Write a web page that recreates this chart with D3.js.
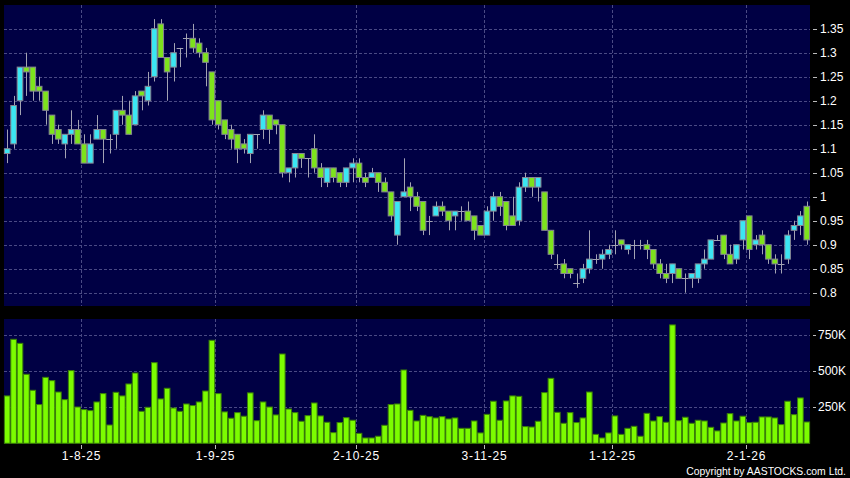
<!DOCTYPE html>
<html>
<head>
<meta charset="utf-8">
<script src="https://cdn.jsdelivr.net/npm/d3@7"></script>
<style>
  body { margin: 0; background: #000; }
  svg { display: block; }
</style>
</head>
<body>
<div id="chart"></div>
<script>
let W = 850,
  H = 478;

// daily prices, one entry per trading day
let open = [1.09,1.11,1.20,1.27,1.27,1.23,1.22,1.17,1.14,1.11,1.13,1.14,1.11,1.07,1.12,1.14,1.12,1.13,1.18,1.17,
  1.15,1.22,1.20,1.25,1.36,1.29,1.27,1.31,1.33,1.33,1.32,1.30,1.26,1.20,1.16,1.14,1.13,1.11,1.09,1.13,
  1.14,1.17,1.16,1.15,1.05,1.06,1.09,1.08,1.10,1.06,1.03,1.06,1.05,1.03,1.06,1.07,1.04,1.04,1.05,1.03,
  1.01,0.92,1.00,1.02,1.00,0.99,0.95,0.96,0.98,0.97,0.96,0.97,0.97,0.96,0.94,0.92,0.97,1.00,0.99,0.96,
  0.95,1.02,1.04,1.02,1.01,0.93,0.86,0.86,0.85,0.82,0.83,0.85,0.87,0.87,0.88,0.90,0.91,0.89,0.90,0.90,
  0.90,0.89,0.86,0.84,0.84,0.85,0.83,0.83,0.83,0.86,0.87,0.91,0.92,0.88,0.87,0.91,0.96,0.90,0.92,0.90,
  0.87,0.86,0.87,0.93,0.94,0.98];
let high = [1.14,1.21,1.27,1.30,1.27,1.25,1.22,1.17,1.15,1.13,1.18,1.16,1.13,1.13,1.17,1.14,1.13,1.18,1.21,1.20,
  1.22,1.22,1.26,1.37,1.37,1.29,1.32,1.31,1.34,1.36,1.33,1.31,1.26,1.20,1.16,1.15,1.13,1.12,1.13,1.13,
  1.18,1.17,1.16,1.15,1.06,1.09,1.09,1.08,1.13,1.07,1.06,1.06,1.05,1.06,1.08,1.08,1.05,1.06,1.05,1.04,
  1.01,0.99,1.08,1.03,1.01,0.99,0.96,0.99,0.99,0.97,0.97,0.98,0.99,0.96,0.94,0.98,1.01,1.01,0.99,1.00,
  1.03,1.05,1.04,1.04,1.01,0.93,0.88,0.87,0.85,0.84,0.86,0.93,0.88,0.89,0.90,0.93,0.91,0.90,0.91,0.91,
  0.91,0.89,0.87,0.86,0.86,0.85,0.84,0.84,0.86,0.89,0.91,0.92,0.92,0.90,0.90,0.95,0.96,0.92,0.93,0.90,
  0.88,0.88,0.93,0.95,0.97,0.99];
let low = [1.07,1.10,1.17,1.21,1.20,1.20,1.15,1.11,1.11,1.08,1.11,1.11,1.07,1.07,1.12,1.07,1.09,1.10,1.15,1.13,
  1.15,1.18,1.19,1.24,1.29,1.20,1.24,1.27,1.29,1.30,1.29,1.23,1.15,1.14,1.12,1.10,1.07,1.09,1.07,1.10,
  1.12,1.11,1.13,1.04,1.03,1.04,1.06,1.04,1.05,1.02,1.02,1.03,1.02,1.02,1.03,1.03,1.02,1.04,1.01,1.01,
  0.95,0.90,1.00,0.97,0.97,0.92,0.92,0.96,0.96,0.93,0.93,0.95,0.95,0.91,0.92,0.92,0.95,0.96,0.93,0.94,
  0.94,1.01,1.00,0.99,0.93,0.87,0.85,0.83,0.83,0.81,0.82,0.84,0.86,0.85,0.87,0.88,0.89,0.88,0.87,0.89,
  0.87,0.85,0.83,0.82,0.82,0.83,0.80,0.81,0.82,0.85,0.87,0.91,0.87,0.86,0.86,0.89,0.87,0.89,0.88,0.86,
  0.84,0.84,0.86,0.91,0.92,0.90];
let close = [1.10,1.19,1.27,1.26,1.22,1.22,1.18,1.13,1.12,1.13,1.14,1.11,1.07,1.11,1.14,1.12,1.12,1.18,1.17,1.13,
  1.21,1.21,1.23,1.35,1.29,1.26,1.30,1.31,1.33,1.31,1.30,1.28,1.16,1.15,1.13,1.12,1.10,1.10,1.13,1.13,
  1.17,1.14,1.15,1.05,1.06,1.09,1.08,1.08,1.06,1.04,1.06,1.04,1.03,1.06,1.07,1.04,1.03,1.05,1.03,1.01,
  0.96,0.99,1.01,1.00,0.98,0.93,0.95,0.98,0.97,0.95,0.97,0.97,0.95,0.93,0.92,0.97,1.00,0.98,0.94,0.94,
  1.02,1.04,1.02,1.04,0.93,0.88,0.86,0.84,0.84,0.82,0.85,0.87,0.87,0.88,0.89,0.90,0.90,0.90,0.90,0.90,
  0.89,0.86,0.84,0.83,0.86,0.83,0.83,0.84,0.86,0.87,0.91,0.91,0.88,0.86,0.90,0.95,0.89,0.91,0.90,0.87,
  0.86,0.86,0.92,0.94,0.96,0.91];
// volume in thousands of shares
let volume = [329,722,694,479,368,269,458,435,356,303,505,252,234,227,287,345,127,354,329,412,
  488,222,250,560,308,382,245,222,273,262,287,363,715,345,218,174,213,188,350,157,
  287,252,197,620,238,213,153,192,280,190,146,74,144,178,160,69,37,37,49,125,
  269,273,509,229,155,194,185,176,185,169,176,104,104,155,72,201,292,160,294,329,
  326,116,113,153,352,451,215,139,213,144,176,356,62,37,72,190,62,104,118,49,
  208,155,185,146,822,157,181,139,160,155,111,86,141,206,155,188,144,146,183,183,
  176,130,292,199,315,148];

let monthLabels = ["1-8-25", "1-9-25", "2-10-25", "3-11-25", "1-12-25", "2-1-26"];
let monthIndex = [11, 32, 54, 74, 94, 115];
let priceTicks = [0.8, 0.85, 0.9, 0.95, 1, 1.05, 1.1, 1.15, 1.2, 1.25, 1.3, 1.35];
let volTicks = [250, 500, 750];
let volTickLabels = ["250K", "500K", "750K"];

let left = 4, right = 810;
let priceTop = 5, priceBottom = 306;
let volTop = 319, volBottom = 443.3;

let navy = "#000044";
let grid = "#4a4a84";
let upColor = "#3be6f3";
let downColor = "#7de31c";
let labelFont = "12px 'Liberation Sans', Arial, sans-serif";

let svg = d3
  .select("#chart")
  .append("svg")
  .attr("width", W)
  .attr("height", H)
  .style("background", "#000");

let idx = d3.range(close.length);

let x = d3.scaleBand()
  .domain(idx)
  .range([left, right])
  .paddingInner(0.12)
  .paddingOuter(0.06);

let y = d3.scaleLinear()
  .domain([0.7723, 1.3994])
  .range([priceBottom, priceTop]);

let yv = d3.scaleLinear()
  .domain([0, 863])
  .range([volBottom, volTop]);

function cx(i) {
  return x(i) + x.bandwidth() / 2;
}
// month separator sits on the right edge of the month's first day
function gx(i) {
  return Math.round(x(i) - x.step() * 0.06 + x.step()) + 0.5;
}

// panels
svg.append("rect")
  .attr("x", left).attr("y", priceTop)
  .attr("width", right - left).attr("height", priceBottom - priceTop)
  .attr("fill", navy);
svg.append("rect")
  .attr("x", left).attr("y", volTop)
  .attr("width", right - left).attr("height", volBottom - volTop)
  .attr("fill", navy);

// grid lines
let gridG = svg.append("g")
  .attr("stroke", grid)
  .attr("stroke-width", 1)
  .attr("stroke-dasharray", "3,2");

gridG.selectAll(".hp")
  .data(priceTicks)
  .enter()
  .append("line")
  .attr("x1", left).attr("x2", right)
  .attr("y1", function(d) { return Math.round(y(d)) + 0.5; })
  .attr("y2", function(d) { return Math.round(y(d)) + 0.5; });

gridG.selectAll(".hv")
  .data(volTicks)
  .enter()
  .append("line")
  .attr("x1", left).attr("x2", right)
  .attr("y1", function(d) { return Math.round(yv(d)) + 0.5; })
  .attr("y2", function(d) { return Math.round(yv(d)) + 0.5; });

[[priceTop, priceBottom], [volTop, volBottom]].forEach(function(p) {
  gridG.selectAll(null)
    .data(monthIndex)
    .enter()
    .append("line")
    .attr("x1", gx)
    .attr("x2", gx)
    .attr("y1", p[0]).attr("y2", p[1]);
});

// candles
let candles = svg.append("g")
  .selectAll("g")
  .data(idx)
  .enter()
  .append("g");

candles.append("line")
  .attr("x1", function(i) { return Math.round(cx(i)) + 0.5; })
  .attr("x2", function(i) { return Math.round(cx(i)) + 0.5; })
  .attr("y1", function(i) { return y(high[i]); })
  .attr("y2", function(i) { return y(low[i]); })
  .attr("stroke", "#a3a3b3")
  .attr("stroke-width", 1);

candles.filter(function(i) { return open[i] !== close[i]; })
  .append("rect")
  .attr("x", function(i) { return x(i); })
  .attr("width", x.bandwidth())
  .attr("y", function(i) { return y(Math.max(open[i], close[i])); })
  .attr("height", function(i) { return Math.abs(y(open[i]) - y(close[i])); })
  .attr("fill", function(i) { return close[i] > open[i] ? upColor : downColor; })
  .attr("stroke", "#858593")
  .attr("stroke-width", 1);

candles.filter(function(i) { return open[i] === close[i]; })
  .append("line")
  .attr("x1", function(i) { return x(i) - 0.5; })
  .attr("x2", function(i) { return x(i) + x.bandwidth() + 0.5; })
  .attr("y1", function(i) { return Math.round(y(close[i])) + 0.5; })
  .attr("y2", function(i) { return Math.round(y(close[i])) + 0.5; })
  .attr("stroke", "#a3a3b3")
  .attr("stroke-width", 1);

// volume bars
svg.append("g")
  .selectAll("rect")
  .data(volume)
  .enter()
  .append("rect")
  .attr("x", function(d, i) { return x(i); })
  .attr("width", x.bandwidth())
  .attr("y", function(d) { return yv(d); })
  .attr("height", function(d) { return volBottom - yv(d); })
  .attr("fill", "#7cfc00")
  .attr("stroke", "#3a7f08")
  .attr("stroke-width", 1);

// right axis labels
let pAxis = svg.append("g");
pAxis.selectAll("line")
  .data(priceTicks)
  .enter()
  .append("line")
  .attr("x1", 813).attr("x2", 817)
  .attr("y1", function(d) { return Math.round(y(d)) + 0.5; })
  .attr("y2", function(d) { return Math.round(y(d)) + 0.5; })
  .attr("stroke", "#bbb");
pAxis.selectAll("text")
  .data(priceTicks)
  .enter()
  .append("text")
  .attr("x", 820)
  .attr("y", function(d) { return y(d); })
  .attr("dy", "0.35em")
  .style("fill", "#fff")
  .style("font", labelFont)
  .text(function(d) { return d3.format("")(d); });

let vAxis = svg.append("g");
vAxis.selectAll("line")
  .data(volTicks)
  .enter()
  .append("line")
  .attr("x1", 813).attr("x2", 816)
  .attr("y1", function(d) { return Math.round(yv(d)) + 0.5; })
  .attr("y2", function(d) { return Math.round(yv(d)) + 0.5; })
  .attr("stroke", "#bbb");
vAxis.selectAll("text")
  .data(volTicks)
  .enter()
  .append("text")
  .attr("x", 818)
  .attr("y", function(d) { return yv(d); })
  .attr("dy", "0.35em")
  .style("fill", "#fff")
  .style("font", labelFont)
  .text(function(d, i) { return volTickLabels[i]; });

// date axis
let dAxis = svg.append("g");
dAxis.selectAll("line")
  .data(monthIndex)
  .enter()
  .append("line")
  .attr("x1", gx)
  .attr("x2", gx)
  .attr("y1", 445).attr("y2", 449)
  .attr("stroke", "#bbb");
dAxis.selectAll("text")
  .data(monthIndex)
  .enter()
  .append("text")
  .attr("x", gx)
  .attr("y", 460)
  .attr("text-anchor", "middle")
  .style("fill", "#fff")
  .style("font", labelFont)
  .style("letter-spacing", "0.8px")
  .text(function(d, i) { return monthLabels[i]; });

svg.append("text")
  .attr("x", 846)
  .attr("y", 475)
  .attr("text-anchor", "end")
  .style("fill", "#fff")
  .style("font", "10.4px 'Liberation Sans', Arial, sans-serif")
  .text("Copyright by AASTOCKS.com Ltd.");
</script>
</body>
</html>
